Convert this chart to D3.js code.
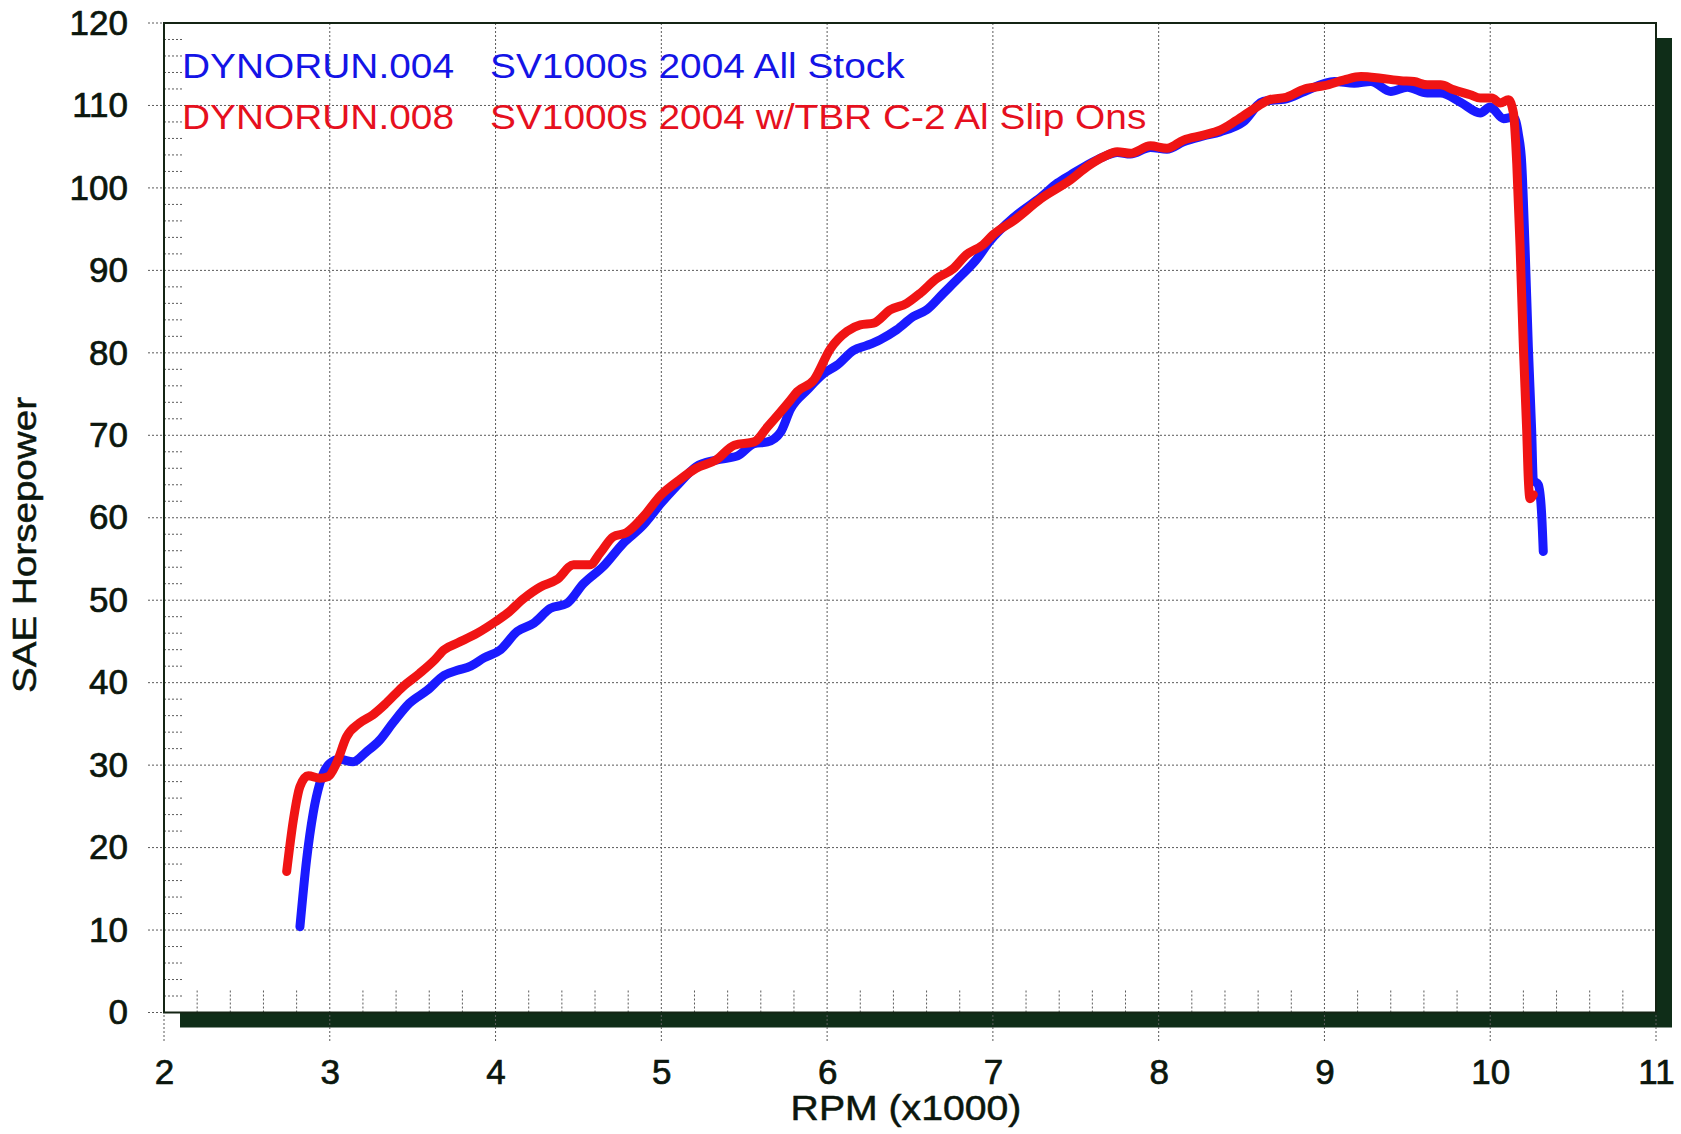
<!DOCTYPE html>
<html>
<head>
<meta charset="utf-8">
<script src="https://cdn.jsdelivr.net/npm/d3@7"></script>
<style>
  body { margin: 0; background: #fff; }
  svg { display: block; }
</style>
</head>
<body>
<div id="chart"></div>
<script>
// Dyno run data (RPM x1000 / SAE HP)
var stockRpm = [2.82, 2.86, 2.90, 2.94, 3.00, 3.06, 3.14, 3.22, 3.30, 3.38, 3.48, 3.59, 3.69, 3.77, 3.85, 3.93,
    4.03, 4.13, 4.23, 4.33, 4.43, 4.53, 4.65, 4.77, 4.89, 5.00, 5.09, 5.21, 5.33, 5.46, 5.56, 5.64, 5.72, 5.78,
    5.88, 5.98, 6.06, 6.16, 6.24, 6.32, 6.42, 6.52, 6.60, 6.70, 6.80, 6.90, 6.98, 7.13, 7.29, 7.39, 7.47, 7.57,
    7.67, 7.75, 7.83, 7.95, 8.05, 8.15, 8.27, 8.37, 8.51, 8.63, 8.77, 8.88, 9.06, 9.18, 9.28, 9.40, 9.50, 9.62,
    9.70, 9.82, 9.94, 10.00, 10.08, 10.14, 10.17, 10.19, 10.21, 10.23, 10.25, 10.26, 10.29, 10.31, 10.32];
var stockHp = [10.4, 18.5, 24.2, 27.8, 30.2, 30.7, 30.4, 31.6, 33.0, 35.1, 37.5, 39.1, 40.9, 41.5, 42.0, 43.0,
    44.0, 46.2, 47.2, 49.0, 49.6, 52.0, 54.1, 56.9, 59.1, 61.8, 63.8, 66.2, 67.0, 67.5, 69.0, 69.2, 70.4, 73.2,
    75.5, 77.5, 78.5, 80.3, 80.9, 81.6, 82.8, 84.4, 85.2, 87.2, 89.2, 91.3, 93.5, 96.5, 98.9, 100.6, 101.6, 102.8,
    103.8, 104.3, 104.1, 104.9, 104.7, 105.6, 106.3, 106.8, 108.0, 110.5, 110.8, 111.7, 112.9, 112.7, 112.9, 111.7, 112.2, 111.5,
    111.5, 110.4, 109.1, 109.8, 108.4, 108.6, 106.5, 103.0, 92.9, 80.7, 70.6, 64.6, 64.0, 60.5, 55.9];

var slipRpm = [2.74, 2.78, 2.82, 2.87, 2.94, 2.99, 3.04, 3.10, 3.18, 3.26, 3.34, 3.44, 3.54, 3.63, 3.69, 3.77,
    3.89, 4.00, 4.07, 4.17, 4.27, 4.37, 4.47, 4.57, 4.63, 4.71, 4.79, 4.89, 5.00, 5.11, 5.21, 5.33, 5.44, 5.56,
    5.64, 5.78, 5.82, 5.92, 6.02, 6.12, 6.20, 6.28, 6.38, 6.48, 6.56, 6.66, 6.76, 6.84, 6.94, 7.00, 7.13, 7.29,
    7.47, 7.57, 7.67, 7.75, 7.83, 7.95, 8.05, 8.15, 8.27, 8.37, 8.47, 8.59, 8.67, 8.77, 8.88, 9.00, 9.12, 9.22,
    9.34, 9.46, 9.54, 9.62, 9.70, 9.78, 9.88, 9.94, 10.01, 10.06, 10.11, 10.14, 10.16, 10.18, 10.20, 10.22,
    10.23, 10.24, 10.26];
var slipHp = [17.1, 23.3, 27.4, 28.7, 28.4, 28.6, 30.2, 33.4, 35.1, 36.1, 37.5, 39.5, 41.1, 42.7, 44.0, 44.8,
    46.0, 47.4, 48.4, 50.2, 51.6, 52.5, 54.3, 54.3, 55.7, 57.7, 58.2, 60.1, 62.8, 64.6, 66.0, 67.0, 68.8, 69.2,
    71.0, 74.3, 75.3, 76.7, 80.5, 82.6, 83.4, 83.6, 85.2, 86.0, 87.2, 89.0, 90.2, 91.9, 93.1, 94.3, 96.1, 98.7,
    101.0, 102.6, 103.8, 104.4, 104.2, 105.1, 104.8, 105.8, 106.4, 107.0, 108.2, 109.8, 110.7, 111.0, 112.0, 112.4, 113.1, 113.5,
    113.3, 113.0, 112.9, 112.5, 112.5, 111.9, 111.3, 110.9, 110.9, 110.3, 110.7, 109.1, 103.0, 92.9, 80.7, 70.6,
    64.6, 62.3, 62.8];

var xTicks = [2, 3, 4, 5, 6, 7, 8, 9, 10, 11];
var yTicks = [0, 10, 20, 30, 40, 50, 60, 70, 80, 90, 100, 110, 120];
var legendRuns = ["DYNORUN.004", "DYNORUN.008"];
var legendNames = ["SV1000s 2004 All Stock", "SV1000s 2004 w/TBR C-2 Al Slip Ons"];
var runColors = ["#1a1aff", "#f01414"];
var legendText = ["#1414e6", "#e6101e"];

////// SETUP SVG
var W = 1681, H = 1134;
var plot = { left: 164, top: 23, right: 1656, bottom: 1012.5 };
var font = "'Liberation Sans', Arial, Helvetica, sans-serif";
var ink = "#0b160d";

var svg = d3.select("#chart").append("svg")
    .attr("width", W)
    .attr("height", H);

var x = d3.scaleLinear().domain([2, 11]).range([plot.left, plot.right]);
var y = d3.scaleLinear().domain([0, 120]).range([plot.bottom, plot.top]);

// drop shadow behind the plot box
svg.append("rect")
    .attr("x", plot.left + 16).attr("y", plot.top + 15)
    .attr("width", plot.right - plot.left).attr("height", plot.bottom - plot.top)
    .attr("fill", "#0f2d18");

svg.append("rect")
    .attr("x", plot.left).attr("y", plot.top)
    .attr("width", plot.right - plot.left).attr("height", plot.bottom - plot.top)
    .attr("fill", "#fff");

////// GRID
var grid = svg.append("g")
    .attr("stroke", "#5a5a5a")
    .attr("stroke-width", 1)
    .attr("stroke-dasharray", "2,2");

grid.selectAll(".vg").data(xTicks).enter().append("line")
    .attr("x1", d => x(d)).attr("x2", d => x(d))
    .attr("y1", plot.top).attr("y2", plot.bottom + 30);

grid.selectAll(".hg").data(yTicks).enter().append("line")
    .attr("x1", plot.left - 16).attr("x2", plot.right)
    .attr("y1", d => y(d)).attr("y2", d => y(d));

// minor ticks: every 2 hp on the left, every 200 rpm on the bottom
var minorY = d3.range(0, 121, 2).filter(d => d % 10 !== 0);
var minorX = d3.range(20, 111, 2).map(d => d / 10).filter(d => d % 1 !== 0);

grid.selectAll(".my").data(minorY).enter().append("line")
    .attr("x1", plot.left).attr("x2", plot.left + 18)
    .attr("y1", d => y(d)).attr("y2", d => y(d));

grid.selectAll(".mx").data(minorX).enter().append("line")
    .attr("x1", d => x(d)).attr("x2", d => x(d))
    .attr("y1", plot.bottom - 22).attr("y2", plot.bottom);

// plot border
svg.append("rect")
    .attr("x", plot.left).attr("y", plot.top)
    .attr("width", plot.right - plot.left).attr("height", plot.bottom - plot.top)
    .attr("fill", "none")
    .attr("stroke", "#142414")
    .attr("stroke-width", 2);

////// AXES (labels only)
var yAxis = svg.append("g")
    .attr("transform", "translate(" + plot.left + ",0)")
    .call(d3.axisLeft(y).tickValues(yTicks).tickSize(0).tickPadding(36));
var xAxis = svg.append("g")
    .attr("transform", "translate(0," + plot.bottom + ")")
    .call(d3.axisBottom(x).tickValues(xTicks).tickSize(0).tickPadding(47));

[yAxis, xAxis].forEach(function(a) {
    a.select(".domain").remove();
    a.selectAll("text")
        .attr("font-size", 35)
        .attr("font-family", font)
        .attr("fill", ink)
        .attr("stroke", ink)
        .attr("stroke-width", 0.7);
});

////// LINES
var line = d3.line()
    .x(d => x(d[0]))
    .y(d => y(d[1]))
    .curve(d3.curveMonotoneX);

var series = [d3.zip(stockRpm, stockHp), d3.zip(slipRpm, slipHp)];

svg.append("g").selectAll("path")
    .data(series)
    .enter().append("path")
    .attr("d", line)
    .attr("fill", "none")
    .attr("stroke", (d, i) => runColors[i])
    .attr("stroke-width", 9)
    .attr("stroke-linejoin", "round")
    .attr("stroke-linecap", "round");

////// LEGEND
var leg = svg.append("g")
    .attr("font-family", font)
    .attr("font-size", 35);

legendRuns.forEach(function(r, i) {
    var by = 78 + i * 51;
    leg.append("text")
        .attr("transform", "translate(182," + by + ") scale(1.11,1)")
        .attr("fill", legendText[i])
        .text(r);
    leg.append("text")
        .attr("transform", "translate(490," + by + ") scale(1.11,1)")
        .attr("fill", legendText[i])
        .text(legendNames[i]);
});

////// AXIS TITLES
svg.append("text")
    .attr("transform", "translate(906,1120) scale(1.12,1)")
    .attr("text-anchor", "middle")
    .attr("font-family", font)
    .attr("font-size", 35)
    .attr("fill", ink)
    .attr("stroke", ink)
    .attr("stroke-width", 0.5)
    .text("RPM (x1000)");

svg.append("text")
    .attr("transform", "translate(36,545) rotate(-90) scale(1.17,1)")
    .attr("text-anchor", "middle")
    .attr("font-family", font)
    .attr("font-size", 33)
    .attr("fill", ink)
    .attr("stroke", ink)
    .attr("stroke-width", 0.5)
    .text("SAE Horsepower");
</script>
</body>
</html>
